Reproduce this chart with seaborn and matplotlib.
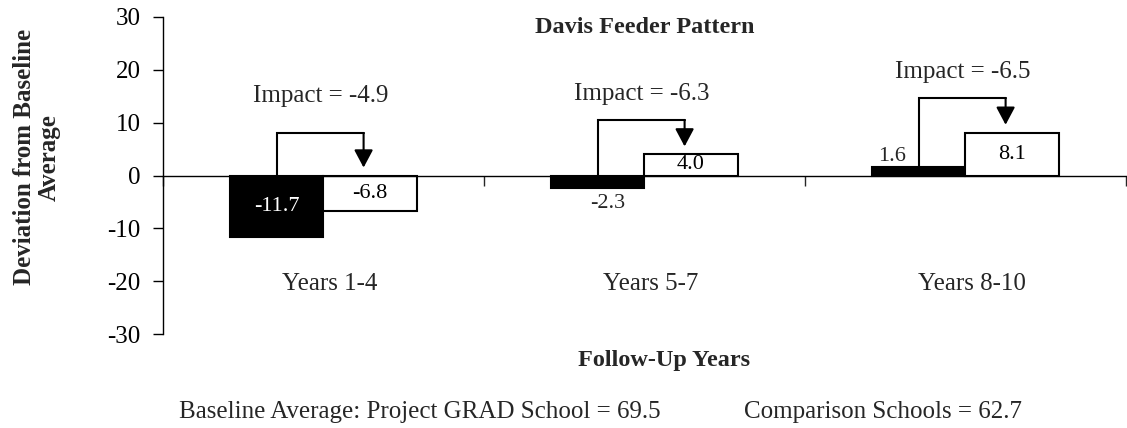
import matplotlib
matplotlib.use("Agg")   # no display, write straight to file
import matplotlib.pyplot as plt
import seaborn as sns
import pandas as pd

# --- data ---
periods = ["Years 1-4", "Years 5-7", "Years 8-10"]
grad_values = [-11.7, -2.3, 1.6]
comparison_values = [-6.8, 4.0, 8.1]
impact_values = [-4.9, -6.3, -6.5]
series_names = ["Project GRAD School", "Comparison Schools"]
baseline_grad = 69.5
baseline_comp = 62.7

sns.set_theme(style="ticks")
plt.rcParams["font.family"] = ["Liberation Serif", "DejaVu Serif"]
plt.rcParams["axes.unicode_minus"] = False   # plain hyphen like the original

df = pd.DataFrame({
    "period": periods * 2,
    "value": grad_values + comparison_values,
    "series": [series_names[0]] * len(periods) + [series_names[1]] * len(periods),
})

fig = plt.figure(figsize=(11.27, 4.28), dpi=100)
ax = fig.add_axes([0.1446, 0.2196, 0.8545, 0.7407])

sns.barplot(data=df, x="period", y="value", hue="series", hue_order=series_names,
            palette=["black", "white"], saturation=1, edgecolor="black",
            linewidth=1.5, width=0.58, errorbar=None, legend=False, ax=ax)

ax.set_xlim(-0.5, len(periods) - 0.5)
ax.set_ylim(-30, 30)
ax.set_yticks(range(-30, 31, 10))
ax.set_xticks([i - 0.5 for i in range(len(periods) + 1)])
ax.set_xticklabels([])
ax.tick_params(axis="y", direction="out", length=7, width=1, labelsize=18, pad=9,
               left=True, colors="black")
ax.tick_params(axis="x", direction="out", length=7, width=1, bottom=True)

# the category axis sits on zero, like the original
ax.spines[["top", "right"]].set_visible(False)
ax.spines["bottom"].set_position(("data", 0))
ax.spines["bottom"].set_linewidth(1)
ax.spines["left"].set_linewidth(1)
ax.spines["bottom"].set_color("black")
ax.spines["left"].set_color("black")

grad_bars = ax.containers[0]
comp_bars = ax.containers[1]

for i, (gb, cb) in enumerate(zip(grad_bars, comp_bars)):
    gv, cv = grad_values[i], comparison_values[i]
    gx = gb.get_x() + gb.get_width() / 2
    cx = cb.get_x() + cb.get_width() / 2

    # value labels: inside the bar when there is room, otherwise next to it
    for x, v, inner in [(gx, gv, "white"), (cx, cv, "black")]:
        if abs(v) >= 3.5:
            ax.text(x, v / 2, f"{v:.1f}", color=inner, ha="center", va="center",
                    fontsize=16)
        elif v > 0:
            ax.text(x - 0.085, v + 2.0, f"{v:.1f}", ha="center", va="center",
                    fontsize=16)
        else:
            ax.text(x + 0.03, v - 3.0, f"{v:.1f}", ha="center", va="center",
                    fontsize=16)

    # elbow connector from the GRAD bar to the comparison bar
    top = max(8, max(gv, cv) + 6.5)
    end_x = cx - 0.02
    tip = max(cv, 0) + 1.5
    ax.plot([gx, gx, end_x], [max(gv, 0), top, top], color="black", lw=1.5,
            solid_joinstyle="miter")
    ax.annotate("", xy=(end_x, tip), xytext=(end_x, top),
                arrowprops=dict(arrowstyle="-|>,head_length=0.47,head_width=0.25",
                                mutation_scale=23, color="black", lw=1.5,
                                shrinkA=0, shrinkB=0))
    ax.text((gx + end_x) / 2, max(15, top + 5), f"Impact = {impact_values[i]:.1f}",
            ha="center", va="center", fontsize=18)

    # category name inside the plot area
    ax.text(i + 0.02, -20.5, periods[i], ha="center", va="center", fontsize=18)

ax.text((len(periods) - 1) / 2, 28.0, "Davis Feeder Pattern", ha="center",
        va="center", fontsize=17.5, fontweight="bold")

ax.set_ylabel("Deviation from Baseline\nAverage", fontsize=18,
              fontweight="bold", linespacing=1.05)
ax.yaxis.set_label_coords(-0.131, 0.558)
ax.yaxis.label.set_va("center")

ax.set_xlabel("Follow-Up Years", fontsize=17.5, fontweight="bold")
ax.xaxis.set_label_coords(0.52, -0.082)
ax.xaxis.label.set_va("center")

fig.text(420 / 1127, 1 - 412 / 428,
         f"Baseline Average: Project GRAD School = {baseline_grad}",
         ha="center", va="center", fontsize=18)
fig.text(883 / 1127, 1 - 412 / 428, f"{series_names[1]} = {baseline_comp}",
         ha="center", va="center", fontsize=18)

fig.savefig("out.png", dpi=100)
plt.close(fig)
